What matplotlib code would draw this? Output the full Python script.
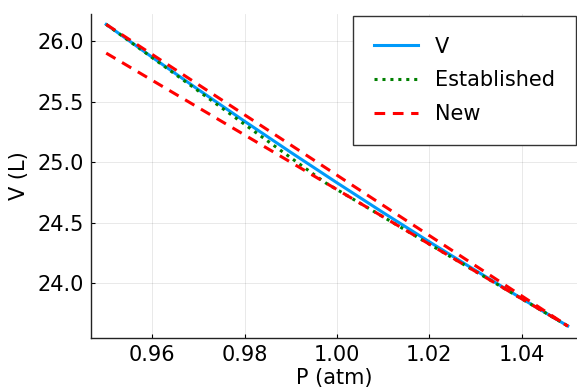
import numpy as np
import matplotlib
matplotlib.use("Agg")
from matplotlib import pyplot as plt

# values
pressure = [0.95, 0.96, 0.97, 0.98, 0.99, 1.00, 1.01, 1.02, 1.03, 1.04, 1.05]
volume = [26.137, 25.865, 25.598, 25.337, 25.081, 24.830, 24.584, 24.343, 24.107, 23.875, 23.648]

est_p = [0.95, 0.9975, 1.05]
est_v = [26.137, 24.830, 23.648]

# two straight segments, split by nan
new_p = [0.95, 1.05, np.nan, 0.95, 1.05]
new_v = [26.137, 23.648, np.nan, 25.900, 23.648]

xticks = [0.96, 0.98, 1.00, 1.02, 1.04]
yticks = [24.0, 24.5, 25.0, 25.5, 26.0]

plt.rcParams['font.family'] = ['DejaVu Sans']
fig = plt.figure(figsize=(5.77, 3.9), dpi=100)
ax = fig.add_axes([91/577, 52/390, 486/577, 324/390])

ax.plot(pressure, volume, color='#009AFA', lw=2.2, label='V')
ax.plot(est_p, est_v, color='#008000', lw=2.2, ls=(0, (1, 1.6)), label='Established')
ax.plot(new_p, new_v, color='#FF0000', lw=2.2, ls=(0, (3.5, 2.5)), label='New')

ax.set_xlim(0.9467, 1.052)
ax.set_ylim(23.549, 26.223)
ax.set_xticks(xticks)
ax.set_xticklabels([f'{t:.2f}' for t in xticks])
ax.set_yticks(yticks)
ax.set_yticklabels([f'{t:.1f}' for t in yticks])
ax.tick_params(direction='in', length=3, width=0.8, labelsize=15, pad=5)
ax.grid(True, color='#000000', alpha=0.1, lw=0.6)
ax.spines['top'].set_visible(False)
ax.spines['right'].set_visible(False)
for s in ['left', 'bottom']:
    ax.spines[s].set_linewidth(1.0)
    ax.spines[s].set_color('#222222')

ax.set_xlabel('P (atm)', fontsize=15, labelpad=2)
ax.set_ylabel('V (L)', fontsize=15, labelpad=6)

leg = ax.legend(loc='upper right', bbox_to_anchor=(0.997, 0.994), fontsize=15,
                fancybox=False, framealpha=1, edgecolor='#333333',
                handlelength=2.1, handletextpad=0.8, labelspacing=0.65,
                borderpad=1.0, borderaxespad=0)
leg.get_frame().set_linewidth(1.0)

fig.savefig('out.png', dpi=100)
